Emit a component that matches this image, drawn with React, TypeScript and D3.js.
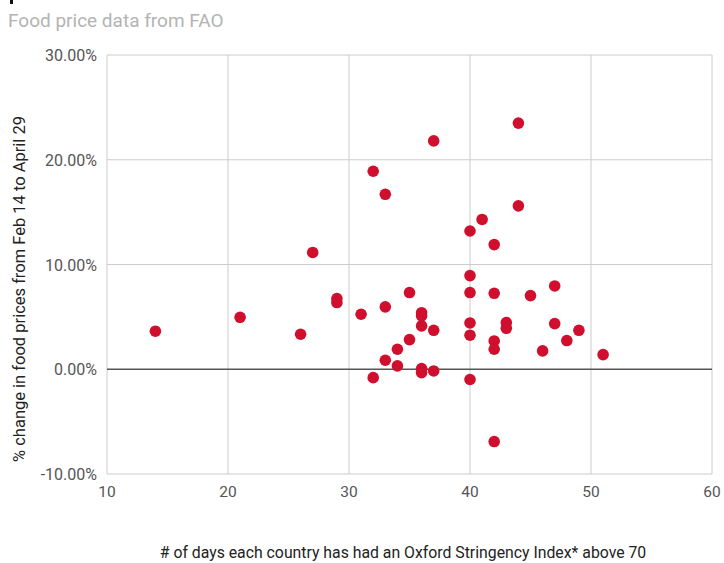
import React, { useRef, useEffect } from "react";
import * as d3 from "d3";

// days above 70 on the Oxford Stringency Index
const daysAbove70 = [
  14, 21, 26, 27, 29, 29, 31, 32, 32, 33, 33, 33, 34, 34, 35, 35, 36, 36, 36, 36, 36,
  37, 37, 37, 40, 40, 40, 40, 40, 40, 41, 42, 42, 42, 42, 42, 43, 43, 44, 44, 45,
  46, 47, 47, 48, 49, 51,
];
// % change in food prices, Feb 14 to April 29
const priceChange = [
  3.63, 4.96, 3.34, 11.15, 6.75, 6.37, 5.25, 18.9, -0.8, 16.7, 5.95, 0.86, 1.91, 0.32,
  7.32, 2.83, 5.4, 5.1, 4.14, 0.06, -0.32, 21.8, 3.72, -0.16, 13.2, 8.94, 7.32, 4.42,
  3.25, -0.98, 14.3, 11.9, 7.25, 2.7, 1.91, -6.9, 4.46, 3.91, 23.5, 15.6, 7.03,
  1.75, 7.95, 4.36, 2.74, 3.72, 1.4,
];
const xTicks = [10, 20, 30, 40, 50, 60];
const yTicks = [-10, 0, 10, 20, 30];

const App = () => {
  const ref = useRef<SVGSVGElement>(null);

  useEffect(() => {
    if (!ref.current) return;
    const svg = d3.select(ref.current);
    svg.selectAll("*").remove();

    const left = 107, right = 712, top = 55, bottom = 474;
    const x = d3.scaleLinear().domain([10, 60]).range([left, right]);
    const y = d3.scaleLinear().domain([-10, 30]).range([bottom, top]);

    // cropped title remnant
    svg.append("rect").attr("x", 10).attr("y", 0).attr("width", 3).attr("height", 4).attr("fill", "#111");

    svg.append("text")
      .attr("x", 8).attr("y", 27)
      .attr("font-size", 19).attr("fill", "#b3b3b3")
      .text("Food price data from FAO");

    // grid
    svg.append("g").selectAll("line").data(xTicks).enter().append("line")
      .attr("x1", (d) => x(d)).attr("x2", (d) => x(d))
      .attr("y1", top).attr("y2", bottom)
      .attr("stroke", "#cccccc").attr("stroke-width", 1);
    svg.append("g").selectAll("line").data(yTicks).enter().append("line")
      .attr("x1", left).attr("x2", right)
      .attr("y1", (d) => y(d)).attr("y2", (d) => y(d))
      .attr("stroke", (d) => (d === 0 ? "#555" : "#cccccc"))
      .attr("stroke-width", (d) => (d === 0 ? 1.5 : 1));

    // tick labels
    svg.append("g").selectAll("text").data(yTicks).enter().append("text")
      .attr("x", left - 10).attr("y", (d) => y(d) + 6)
      .attr("text-anchor", "end").attr("font-size", 16).attr("fill", "#555")
      .text((d) => `${d.toFixed(2)}%`);
    svg.append("g").selectAll("text").data(xTicks).enter().append("text")
      .attr("x", (d) => x(d)).attr("y", bottom + 23)
      .attr("text-anchor", "middle").attr("font-size", 15.5).attr("fill", "#555")
      .text((d) => d);

    // points
    svg.append("g").selectAll("circle").data(daysAbove70).enter().append("circle")
      .attr("cx", (d) => x(d))
      .attr("cy", (d, i) => y(priceChange[i]))
      .attr("r", 5.8)
      .attr("fill", "#cf0f2d");

    // axis titles
    svg.append("text")
      .attr("transform", "translate(25,289) rotate(-90)")
      .attr("text-anchor", "middle").attr("font-size", 16.5).attr("fill", "#222")
      .text("% change in food prices from Feb 14 to April 29");
    svg.append("text")
      .attr("x", 403).attr("y", 558)
      .attr("text-anchor", "middle").attr("font-size", 15.8).attr("fill", "#222")
      .text("# of days each country has had an Oxford Stringency Index* above 70");
  }, []);

  return (
    <svg
      ref={ref}
      width={724}
      height={563}
      style={{ position: "absolute", left: 0, top: 0, fontFamily: "Roboto, sans-serif", background: "#fff" }}
    />
  );
};

export default App;
